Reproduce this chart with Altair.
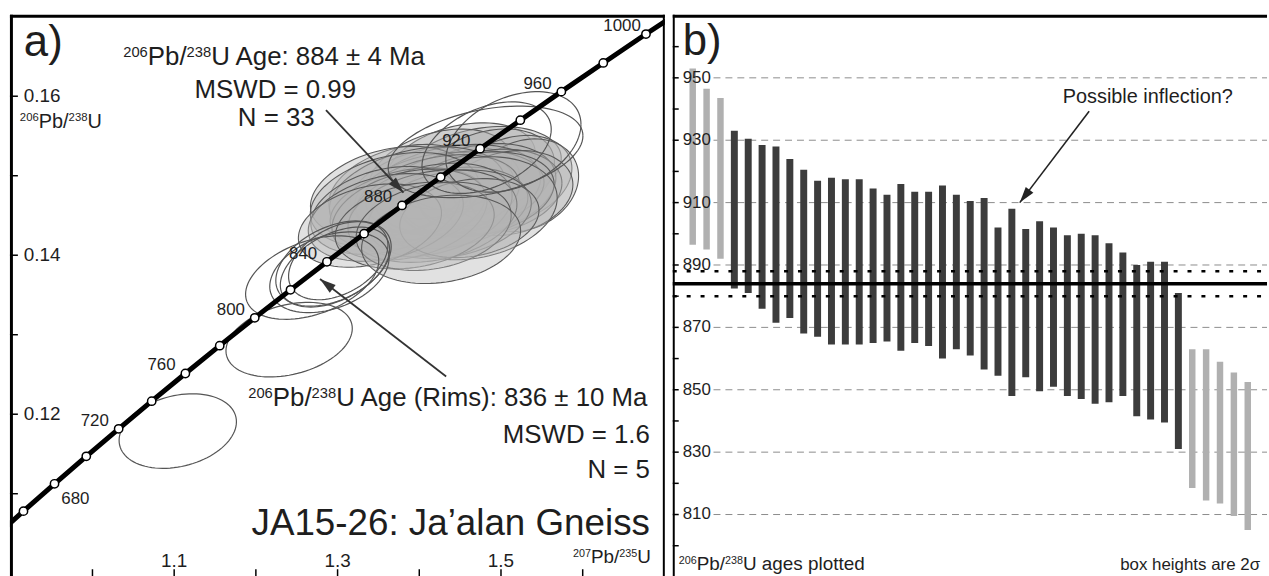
import numpy as np
import pandas as pd
import altair as alt

FONT = "Liberation Sans"
TXT = "#1e1e1e"

# ---------------- Panel a : concordia (age Ma, 207Pb/235U, 206Pb/238U)
conc_age = [640, 660, 680, 700, 720, 740, 760, 780, 800, 820, 840, 860, 880, 900, 920, 940, 960, 980, 1000, 1020]
conc_r75 = [0.878264, 0.915563, 0.953568, 0.992432, 1.032066, 1.072489, 1.113713, 1.155757, 1.198639, 1.242375,
            1.286978, 1.332467, 1.378860, 1.426178, 1.474440, 1.523667, 1.573874, 1.625175, 1.677440, 1.730640]
conc_r68 = [0.104376, 0.107807, 0.111249, 0.114702, 0.118166, 0.121640, 0.125125, 0.128621, 0.132127, 0.135645,
            0.139174, 0.142714, 0.146265, 0.149827, 0.153399, 0.156983, 0.160575, 0.164188, 0.167820, 0.171434]
marker_ages = [660, 680, 700, 720, 740, 760, 780, 800, 820, 840, 860, 880, 900, 920, 940, 960, 980, 1000]
label_ages = [720, 760, 800, 840, 880, 920, 960, 1000]
label_low = [680]

# concordant population (33 analyses): centre 207/235, centre 206/238, 2s x, 2s y, rho
fill_r75 = [1.4508, 1.4765, 1.4255, 1.4803, 1.5138, 1.5281, 1.4193, 1.4723, 1.3804, 1.4413, 1.4870,
            1.4183, 1.3641, 1.4493, 1.5089, 1.3971, 1.4701, 1.4228, 1.3700, 1.4356, 1.4654, 1.3858,
            1.4138, 1.3585, 1.4373, 1.3880, 1.4161, 1.3590, 1.4613, 1.3396, 1.3944, 1.4176, 1.4267]
fill_r68 = [0.15120, 0.15084, 0.15022, 0.14978, 0.14955, 0.14880, 0.14840, 0.14827, 0.14822, 0.14822, 0.14800,
            0.14787, 0.14791, 0.14791, 0.14782, 0.14764, 0.14764, 0.14729, 0.14698, 0.14595, 0.14591, 0.14587,
            0.14569, 0.14564, 0.14515, 0.14511, 0.14493, 0.14475, 0.14467, 0.14373, 0.14373, 0.14364, 0.14200]
fill_ex = [0.0912, 0.0973, 0.0876, 0.0852, 0.0730, 0.0669, 0.1034, 0.0949, 0.0912, 0.1071, 0.0876,
           0.0973, 0.0973, 0.1034, 0.0791, 0.1071, 0.0949, 0.0998, 0.1034, 0.0973, 0.1034, 0.0949,
           0.0998, 0.0912, 0.0998, 0.0949, 0.1034, 0.0949, 0.0852, 0.0876, 0.0973, 0.0949, 0.0973]
fill_ey = [0.00545, 0.00535, 0.00565, 0.00610, 0.00552, 0.00583, 0.00541, 0.00578, 0.00572, 0.00572, 0.00535,
           0.00508, 0.00578, 0.00524, 0.00535, 0.00600, 0.00535, 0.00535, 0.00594, 0.00513, 0.00648, 0.00513,
           0.00589, 0.00552, 0.00556, 0.00572, 0.00583, 0.00552, 0.00497, 0.00524, 0.00545, 0.00556, 0.00556]
fill_rho = [0.30, 0.25, 0.30, 0.30, 0.25, 0.20, 0.30, 0.25, 0.30, 0.25, 0.20,
            0.30, 0.30, 0.25, 0.20, 0.30, 0.25, 0.30, 0.30, 0.25, 0.20, 0.30,
            0.30, 0.30, 0.25, 0.30, 0.25, 0.30, 0.20, 0.30, 0.25, 0.25, 0.20]

# unfilled ellipses: 5 rims, 3 older grains, 2 discordant young grains
open_r75 = [1.3008, 1.2950, 1.2968, 1.2900, 1.2689, 1.4811, 1.5152, 1.4824, 1.1044, 1.2407]
open_r68 = [0.13931, 0.13895, 0.13851, 0.13785, 0.13719, 0.15300, 0.15425, 0.15353, 0.11788, 0.12938]
open_ex = [0.0608, 0.0706, 0.0669, 0.0730, 0.0815, 0.1192, 0.0827, 0.0791, 0.0718, 0.0773]
open_ey = [0.00491, 0.00536, 0.00503, 0.00508, 0.00525, 0.00576, 0.00632, 0.00576, 0.00469, 0.00469]
open_rho = [0.40, 0.40, 0.45, 0.35, 0.40, 0.35, 0.35, 0.40, 0.25, 0.30]

a_xticks = [1.0, 1.1, 1.2, 1.3, 1.4, 1.5, 1.6]
a_xlabels = [1.1, 1.3, 1.5]
a_yticks = [0.11, 0.12, 0.13, 0.14, 0.15, 0.16]
a_ylabels = [0.12, 0.14, 0.16]

# ---------------- Panel b : 206Pb/238U ages (box top, box bottom, Ma)
old_top = [953.0, 946.5, 943.5]
old_bot = [896.5, 895.0, 892.0]
dark_top = [933.0, 930.5, 928.5, 928.0, 924.0, 920.5, 917.0, 918.0, 917.5, 917.5, 914.5, 912.5, 916.0,
            913.5, 913.5, 915.5, 912.5, 910.5, 911.5, 902.0, 908.0, 901.5, 904.0, 902.0, 899.5, 900.0,
            899.5, 897.0, 894.0, 890.0, 891.0, 891.0, 881.0]
dark_bot = [882.5, 881.0, 876.0, 871.5, 873.0, 868.0, 867.0, 864.5, 864.5, 864.5, 865.0, 865.5, 862.5,
            865.0, 864.0, 860.0, 863.0, 861.0, 856.5, 854.5, 848.0, 854.0, 849.5, 851.0, 848.0, 847.0,
            845.5, 846.0, 848.0, 841.5, 840.5, 839.5, 831.0]
rim_top = [863.0, 863.0, 859.0, 855.5, 852.5]
rim_bot = [818.5, 814.5, 813.5, 809.5, 805.0]
mean_age = 884
mean_err = 4
b_ticks = list(range(800, 961, 10))
b_labels = list(range(810, 951, 20))

# ---------------- geometry
WA, WB, H = 659, 598, 565
xa = alt.Scale(domain=[0.899, 1.7005], nice=False, zero=False)
ya = alt.Scale(domain=[0.099625, 0.17025], nice=False, zero=False)
xb = alt.Scale(domain=[-0.08, 42.03], nice=False, zero=False)
yb = alt.Scale(domain=[790.23, 970.23], nice=False, zero=False)


def ellipse_frame(cx, cy, ex, ey, rho, prefix):
    t = np.linspace(0, 2 * np.pi, 97)
    rows = []
    for i, (a, b, c, d, r) in enumerate(zip(cx, cy, ex, ey, rho)):
        xs = a + c * np.cos(t)
        ys = b + d * (r * np.cos(t) + np.sqrt(1 - r * r) * np.sin(t))
        for k, (x, y) in enumerate(zip(xs, ys)):
            rows.append({"id": f"{prefix}{i:02d}", "k": k, "x": float(x), "y": float(y)})
    return pd.DataFrame(rows)


one = pd.DataFrame({"z": [0]})


def txt(text, x, y, size, align="left", baseline="alphabetic"):
    return alt.Chart(one).mark_text(text=text, fontSize=size, font=FONT, align=align,
                                    baseline=baseline, color=TXT).encode(x=alt.value(x), y=alt.value(y))


# Arial / Liberation Sans advance widths (per 1000 em) for composing superscripts
ADV = {" ": 278, "(": 333, ")": 333, "/": 278, ":": 278, "±": 584, "A": 667, "M": 833, "P": 667,
       "R": 722, "U": 722, "a": 556, "b": 556, "d": 556, "e": 556, "g": 556, "i": 222, "l": 222,
       "m": 833, "o": 556, "p": 556, "s": 500, "t": 278}


def adv(s, size):
    return sum(ADV.get(c, 556) for c in s) * size / 1000.0


def rich(parts, x, y, size, align="left"):
    sup = size * 0.57
    widths = [adv(t, sup if s else size) for t, s in parts]
    total = sum(widths)
    x0 = x if align == "left" else (x - total / 2 if align == "center" else x - total)
    out = []
    for (t, s), w in zip(parts, widths):
        out.append(txt(t, x0, y - (0.33 * size if s else 0), sup if s else size))
        x0 += w
    return out


def AX(f):
    return alt.X(f, type="quantitative", scale=xa, axis=None)


def AY(f):
    return alt.Y(f, type="quantitative", scale=ya, axis=None)


def BX(f):
    return alt.X(f, type="quantitative", scale=xb, axis=None)


def BY(f):
    return alt.Y(f, type="quantitative", scale=yb, axis=None)


TRI = "M0,0L-0.6,2L0.6,2Z"

# ---------------- Panel a layers
df_fill = ellipse_frame(fill_r75, fill_r68, fill_ex, fill_ey, fill_rho, "f")
df_open = ellipse_frame(open_r75, open_r68, open_ex, open_ey, open_rho, "o")
conc = pd.DataFrame({"age": conc_age, "x": conc_r75, "y": conc_r68})
marks = conc[conc["age"].isin(marker_ages)]
labs = conc[conc["age"].isin(label_ages)].assign(lab=lambda d: d["age"].astype(str))
labs_low = conc[conc["age"].isin(label_low)].assign(lab=lambda d: d["age"].astype(str))

filled = alt.Chart(df_fill).mark_line(fill="#b4b4b4", fillOpacity=0.4, stroke="#5a5a5a",
                                      strokeWidth=1.1, clip=True).encode(
    x=AX("x"), y=AY("y"), detail="id:N", order="k:Q")
opened = alt.Chart(df_open).mark_line(stroke="#555555", strokeWidth=1.2, clip=True).encode(
    x=AX("x"), y=AY("y"), detail="id:N", order="k:Q")
conc_line = alt.Chart(conc).mark_line(color="black", strokeWidth=5, clip=True).encode(
    x=AX("x"), y=AY("y"), order="age:Q")
conc_pts = alt.Chart(marks).mark_circle(size=70, color="white", stroke="black", strokeWidth=1.5,
                                        opacity=1, clip=True).encode(x=AX("x"), y=AY("y"))
conc_lab = alt.Chart(labs).mark_text(dx=-24, dy=-8, fontSize=17, font=FONT, color=TXT).encode(
    x=AX("x"), y=AY("y"), text="lab:N")
conc_lab2 = alt.Chart(labs_low).mark_text(dx=21, dy=15, fontSize=17, font=FONT, color=TXT).encode(
    x=AX("x"), y=AY("y"), text="lab:N")

arrows_a = pd.DataFrame({"x": [1.2858, 1.4329], "y": [0.15825, 0.12475],
                         "x2": [1.3806, 1.2785], "y2": [0.14788, 0.13700]})
arr_lines = alt.Chart(arrows_a).mark_rule(color="#333333", strokeWidth=1.8).encode(
    x=AX("x"), y=AY("y"), x2="x2", y2="y2")
head1 = alt.Chart(arrows_a.iloc[[0]]).mark_point(shape=TRI, filled=True, color="#333333", size=260,
                                                 angle=136.8, opacity=1).encode(x=AX("x2"), y=AY("y2"))
head2 = alt.Chart(arrows_a.iloc[[1]]).mark_point(shape=TRI, filled=True, color="#333333", size=260,
                                                 angle=307.7, opacity=1).encode(x=AX("x2"), y=AY("y2"))

ayt = alt.Chart(pd.DataFrame({"v": a_yticks})).mark_rule(color="black", strokeWidth=1.5).encode(
    y=AY("v"), x=alt.value(0), x2=alt.value(8))
ayl = alt.Chart(pd.DataFrame({"v": a_ylabels})).mark_text(align="left", baseline="middle", fontSize=19,
                                                          font=FONT, color=TXT).encode(
    y=AY("v"), x=alt.value(14), text=alt.Text("v:Q", format=".2f"))
axt = alt.Chart(pd.DataFrame({"v": a_xticks})).mark_rule(color="black", strokeWidth=1.5).encode(
    x=AX("v"), y=alt.value(H), y2=alt.value(H - 7))
axl = alt.Chart(pd.DataFrame({"v": a_xlabels})).mark_text(align="center", baseline="alphabetic",
                                                          fontSize=19, font=FONT, color=TXT).encode(
    x=AX("v"), y=alt.value(556), text=alt.Text("v:Q", format=".1f"))

a_border = [
    alt.Chart(one).mark_rule(color="black", strokeWidth=3).encode(x=alt.value(0), x2=alt.value(WA), y=alt.value(1.5)),
    alt.Chart(one).mark_rule(color="black", strokeWidth=3).encode(x=alt.value(1.5), y=alt.value(0), y2=alt.value(H)),
    alt.Chart(one).mark_rule(color="black", strokeWidth=2).encode(x=alt.value(WA - 1), y=alt.value(0), y2=alt.value(H)),
]

a_text = [
    txt("a)", 14, 42, 44),
    *rich([("206", True), ("Pb/", False), ("238", True), ("U Age: 884 ± 4 Ma", False)], 267, 51, 26, "center"),
    txt("MSWD = 0.99", 267, 84, 26, "center"),
    txt("N = 33", 268, 112, 26, "center"),
    *rich([("206", True), ("Pb/", False), ("238", True), ("U", False)], 10, 114, 20),
    *rich([("206", True), ("Pb/", False), ("238", True), ("U Age (Rims): 836 ± 10 Ma", False)], 644, 394, 26, "right"),
    txt("MSWD = 1.6", 644, 431, 26, "right"),
    txt("N = 5", 644, 466, 26, "right"),
    txt("JA15-26: Ja’alan Gneiss", 644, 524, 37, "right"),
    *rich([("207", True), ("Pb/", False), ("235", True), ("U", False)], 645, 552, 19, "right"),
]

panel_a = alt.layer(filled, opened, conc_line, conc_pts, conc_lab, conc_lab2, arr_lines, head1, head2,
                    ayt, ayl, axt, axl, *a_text, *a_border).properties(width=WA, height=H)

# ---------------- Panel b layers
n_old, n_dark, n_rim = len(old_top), len(dark_top), len(rim_top)
bars = pd.DataFrame({
    "i": list(range(1, n_old + n_dark + n_rim + 1)),
    "top": old_top + dark_top + rim_top,
    "bot": old_bot + dark_bot + rim_bot,
    "grp": ["excluded"] * n_old + ["used"] * n_dark + ["excluded"] * n_rim,
})

grid = alt.Chart(pd.DataFrame({"v": b_labels})).mark_rule(color="#8c8c8c", strokeWidth=1,
                                                         strokeDash=[7, 5]).encode(
    y=BY("v"), x=alt.value(41), x2=alt.value(WB))
bar_dark = alt.Chart(bars[bars.grp == "used"]).mark_bar(size=7, color="#3c3c3c").encode(
    x=BX("i"), y=BY("top"), y2="bot")
bar_light = alt.Chart(bars[bars.grp == "excluded"]).mark_bar(size=6.5, color="#b0b0b0").encode(
    x=BX("i"), y=BY("top"), y2="bot")
mean_line = alt.Chart(pd.DataFrame({"v": [mean_age]})).mark_rule(color="black", strokeWidth=3.5).encode(
    y=BY("v"), x=alt.value(0), x2=alt.value(WB))
err_line = alt.Chart(pd.DataFrame({"v": [mean_age - mean_err, mean_age + mean_err]})).mark_rule(
    color="black", strokeWidth=2.5, strokeDash=[4, 10]).encode(y=BY("v"), x=alt.value(0), x2=alt.value(WB))
byt = alt.Chart(pd.DataFrame({"v": b_ticks})).mark_rule(color="black", strokeWidth=1.5).encode(
    y=BY("v"), x=alt.value(0), x2=alt.value(6))
byl = alt.Chart(pd.DataFrame({"v": b_labels})).mark_text(align="left", baseline="middle", fontSize=17,
                                                         font=FONT, color=TXT).encode(
    y=BY("v"), x=alt.value(10), text=alt.Text("v:Q", format="d"))

arrow_b = pd.DataFrame({"x": [29.57], "y": [939.3], "x2": [24.57], "y2": [910.0]})
arr_b = alt.Chart(arrow_b).mark_rule(color="#222222", strokeWidth=1.6).encode(
    x=BX("x"), y=BY("y"), x2="x2", y2="y2")
head_b = alt.Chart(arrow_b).mark_point(shape=TRI, filled=True, color="#222222", size=260,
                                       angle=217.7, opacity=1).encode(x=BX("x2"), y=BY("y2"))

b_border = [
    alt.Chart(one).mark_rule(color="black", strokeWidth=3).encode(x=alt.value(0), x2=alt.value(WB), y=alt.value(1.5)),
    alt.Chart(one).mark_rule(color="black", strokeWidth=2).encode(x=alt.value(1), y=alt.value(0), y2=alt.value(H)),
]
b_text = [
    txt("b)", 10, 41, 44),
    txt("Possible inflection?", 478, 89, 20, "center"),
    *rich([("206", True), ("Pb/", False), ("238", True), ("U ages plotted", False)], 6, 559, 19),
    txt("box heights are 2σ", 591, 559, 17, "right"),
]

panel_b = alt.layer(grid, bar_light, bar_dark, mean_line, err_line, byt, byl, arr_b, head_b,
                    *b_text, *b_border).properties(width=WB, height=H)

chart = alt.hconcat(panel_a, panel_b, spacing=4).properties(
    padding={"left": 8, "top": 11, "right": 0, "bottom": 0}, background="white"
).configure_view(stroke=None)

chart.save("out.html", embed_options={"renderer": "svg", "actions": False})
